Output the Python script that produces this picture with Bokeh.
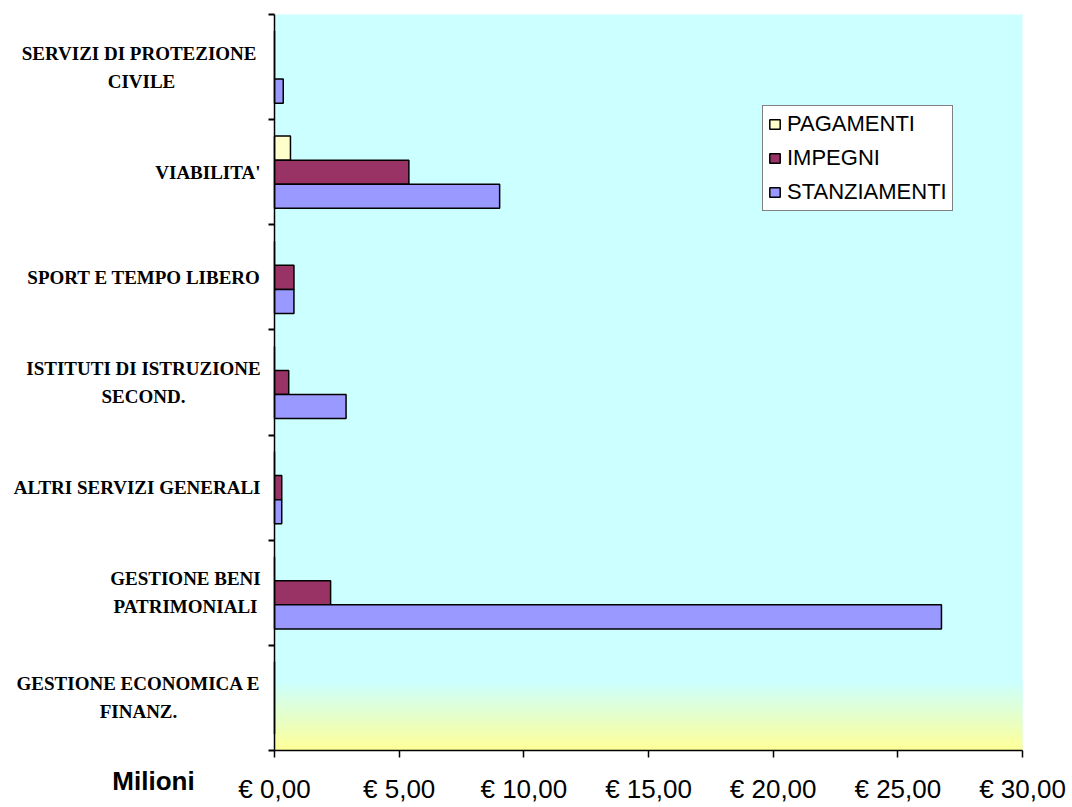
import numpy as np
from bokeh.plotting import figure
from bokeh.models import Range1d, FixedTicker, Legend, LegendItem, ColumnDataSource
from bokeh.core.properties import value
from bokeh.embed import file_html
from bokeh.resources import INLINE

# Expenditure lines, listed bottom to top as they appear on the axis
categories = [
    "GESTIONE ECONOMICA E\nFINANZ.",
    "GESTIONE BENI\nPATRIMONIALI",
    "ALTRI SERVIZI GENERALI",
    "ISTITUTI DI ISTRUZIONE\nSECOND.",
    "SPORT E TEMPO LIBERO",
    "VIABILITA'",
    "SERVIZI DI  PROTEZIONE\nCIVILE",
]

# Amounts in millions of euro
pagamenti = [0.0, 0.0, 0.0, 0.0, 0.0, 0.64, 0.0]
impegni = [0.0, 2.25, 0.29, 0.57, 0.78, 5.39, 0.0]
stanziamenti = [0.0, 26.75, 0.29, 2.87, 0.78, 9.03, 0.35]

x_ticks = [0, 5, 10, 15, 20, 25, 30]
x_tick_labels = ["€ 0,00", "€ 5,00", "€ 10,00", "€ 15,00", "€ 20,00", "€ 25,00", "€ 30,00"]
unit_label = "Milioni"

series_names = ["PAGAMENTI", "IMPEGNI", "STANZIAMENTI"]
series_colors = ["#FFFFCC", "#993366", "#9999FF"]

n = len(categories)
x_max = 30
bar_h = 0.229

# Canvas geometry: the plotting area sits at pixels 274..1022 x 14..750
W, H = 1072, 807
AX_L, AX_R, AX_T, AX_B = 274, 1022, 14, 750
px_x = (AX_R - AX_L) / x_max
px_y = (AX_B - AX_T) / n


def dx(px):
    return (px - AX_L) / px_x


def dy(py):
    return (AX_B - py) / px_y


p = figure(width=W, height=H, output_backend="svg", toolbar_location=None,
           x_range=Range1d(dx(0), dx(W)), y_range=Range1d(dy(H), dy(0)),
           min_border=0)
p.background_fill_color = "white"
p.border_fill_color = "white"
p.outline_line_color = None
p.grid.visible = False

# Plotting area: light cyan with a soft fade to pale yellow at the bottom
p.quad(left=0, right=x_max, bottom=0, top=n, fill_color="#CCFFFF", line_color=None)
steps = 64
img = np.empty((steps, 2), dtype=np.uint32)
view = img.view(dtype=np.uint8).reshape((steps, 2, 4))
top_c = np.array([0xCC, 0xFF, 0xFF])
bot_c = np.array([0xFF, 0xFF, 0x99])
for i in range(steps):
    t = i / (steps - 1)
    c = bot_c * (1 - t) + top_c * t
    view[i, :, 0] = int(c[0])
    view[i, :, 1] = int(c[1])
    view[i, :, 2] = int(c[2])
    view[i, :, 3] = 255
p.image_rgba(image=[img], x=0, y=0, dw=x_max, dh=0.66)

centers = np.arange(n) + 0.5
offsets = [bar_h, 0.0, -bar_h]
renderers = []
for vals, col, off in zip([pagamenti, impegni, stanziamenti], series_colors, offsets):
    src = ColumnDataSource(dict(y=centers + off, right=vals))
    r = p.hbar(y="y", left=0, right="right", height=bar_h, source=src,
               fill_color=col, line_color="black", line_width=1.5)
    renderers.append(r)

# Axes pinned to the corner of the plotting area
ya = p.yaxis[0]
ya.fixed_location = 0
ya.bounds = (0, n)
ya.ticker = FixedTicker(ticks=list(range(n + 1)), minor_ticks=[])
ya.major_label_overrides = {i: "" for i in range(n + 1)}
ya.major_tick_out = 6
ya.major_tick_in = 0
ya.major_tick_line_color = "black"
ya.major_tick_line_width = 2
ya.axis_line_color = "black"
ya.axis_line_width = 1.5

xa = p.xaxis[0]
xa.fixed_location = 0
xa.bounds = (0, x_max)
xa.ticker = FixedTicker(ticks=x_ticks, minor_ticks=[])
xa.major_label_overrides = {t: lab for t, lab in zip(x_ticks, x_tick_labels)}
xa.major_tick_out = 7
xa.major_tick_in = 0
xa.major_tick_line_color = "black"
xa.major_tick_line_width = 1.5
xa.axis_line_color = "black"
xa.axis_line_width = 1.5
xa.major_label_standoff = 16
xa.major_label_text_font = "Liberation Sans"
xa.major_label_text_font_size = "26px"
xa.major_label_text_color = "black"

# Category names: wrapped lines centred on each other, block set against the axis
block_centre_px = {0: 138, 1: 185, 3: 143, 6: 141}
label_right_px = 260
line_gap_px = 28
cx, cy, ct, rx, ry, rt = [], [], [], [], [], []
for i, lab in enumerate(categories):
    lines = lab.split("\n")
    if len(lines) == 1:
        rx.append(dx(label_right_px))
        ry.append(float(centers[i]))
        rt.append(lines[0])
    else:
        for j, ln in enumerate(lines):
            cx.append(dx(block_centre_px[i]))
            cy.append(float(centers[i]) + (line_gap_px / 2 - line_gap_px * j) / px_y)
            ct.append(ln)

label_style = dict(text_font=value("Liberation Serif"), text_font_style="bold",
                   text_font_size=value("19px"), text_color="black",
                   text_baseline="middle")
p.text(x=cx, y=cy, text=ct, text_align="center", **label_style)
p.text(x=rx, y=ry, text=rt, text_align="right", **label_style)

p.text(x=[dx(153)], y=[dy(780)], text=[unit_label], text_align="center",
       text_baseline="middle", text_font=value("Liberation Sans"),
       text_font_style="bold", text_font_size=value("26px"), text_color="black")

legend = Legend(items=[LegendItem(label=nm, renderers=[r])
                       for nm, r in zip(series_names, renderers)],
                location=(762, H - 211))
legend.label_text_font = "Liberation Sans"
legend.label_text_font_size = "22px"
legend.label_text_color = "black"
legend.glyph_width = 13
legend.glyph_height = 12
legend.label_standoff = 6
legend.label_height = 26
legend.spacing = 8
legend.padding = 5
legend.margin = 0
legend.border_line_color = "black"
legend.border_line_width = 1
legend.background_fill_color = "white"
legend.background_fill_alpha = 1.0
p.add_layout(legend)

open("out.html", "w").write(file_html(p, INLINE))
